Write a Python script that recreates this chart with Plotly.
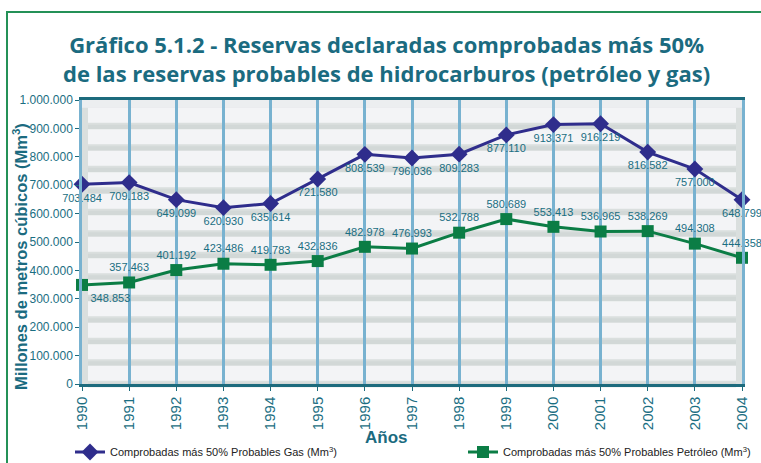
import plotly.graph_objects as go

years = list(range(1990, 2005))
gas = [703484, 709183, 649099, 620930, 635614, 721580, 808539, 796036,
       809283, 877110, 913371, 916219, 816582, 757000, 648799]
oil = [348853, 357463, 401192, 423486, 419783, 432836, 482978, 476993,
       532788, 580689, 553413, 536965, 538269, 494308, 444358]
gas_name = "Comprobadas más 50% Probables Gas (Mm<sup>3</sup>)"
oil_name = "Comprobadas más 50% Probables Petróleo (Mm<sup>3</sup>)"
title_text = ("Gráfico 5.1.2 - Reservas declaradas comprobadas más 50%<br>"
              "de las reservas probables de hidrocarburos (petróleo y gas)")
y_title = "Millones de metros cúbicos (Mm<sup>3</sup>)"
x_title = "Años"

W, H = 761, 463
L, R, T, B = 82, 19, 100, 79
PW, PH = W - L - R, H - T - B

def px_x(x):
    return (x - L) / PW

def px_y(y):
    return (H - B - y) / PH

TEAL = "#1b6b80"
LABEL = "#1a6e82"
GAS_C = "#2f2d8c"
OIL_C = "#0b7d45"
FONT = "Liberation Sans, Arial"

oil_pos = ["bottom right"] + ["top center"] * (len(oil) - 1)

fig = go.Figure()
fig.add_trace(go.Scatter(
    x=years, y=gas, name=gas_name, mode="lines+markers+text",
    line=dict(color=GAS_C, width=3),
    marker=dict(symbol="diamond", size=13, color=GAS_C),
    text=[f"{v:,}".replace(",", ".") for v in gas],
    textposition="bottom center",
    textfont=dict(family=FONT, size=11, color=LABEL),
    cliponaxis=False, legend="legend", showlegend=True))
fig.add_trace(go.Scatter(
    x=years, y=oil, name=oil_name, mode="lines+markers+text",
    line=dict(color=OIL_C, width=3),
    marker=dict(symbol="square", size=12, color=OIL_C),
    text=[f"{v:,}".replace(",", ".") for v in oil],
    textposition=oil_pos,
    textfont=dict(family=FONT, size=11, color=LABEL),
    cliponaxis=False, legend="legend2", showlegend=True))

shapes = []
shapes.append(dict(type="rect", xref="paper", yref="paper", layer="below",
                   x0=0, x1=1, y0=px_y(107.7), y1=1,
                   fillcolor="#eceef0", line=dict(width=0)))
for k in range(13):
    top = 107.7 + 21.5 * k
    shapes.append(dict(type="rect", xref="paper", yref="paper", layer="below",
                       x0=px_x(88), x1=px_x(736), y0=px_y(top + 15), y1=px_y(top),
                       fillcolor="#f3f4f6", line=dict(width=0)))
    shapes.append(dict(type="rect", xref="paper", yref="paper", layer="below",
                       x0=px_x(88), x1=px_x(736), y0=px_y(top + 21.5), y1=px_y(top + 17),
                       fillcolor="#d2d8d7", line=dict(width=0)))
shapes.append(dict(type="rect", xref="paper", yref="paper", layer="above",
                   x0=px_x(7), x1=px_x(790), y0=px_y(490), y1=px_y(12),
                   fillcolor="rgba(0,0,0,0)", line=dict(color="#249157", width=2)))

annotations = [
    dict(text=title_text, xref="paper", yref="paper",
         x=px_x(386), y=px_y(27), xanchor="center", yanchor="top",
         showarrow=False, align="center",
         font=dict(family="Open Sans", size=22, color=TEAL, weight="bold")),
    dict(text=y_title, xref="paper", yref="paper", textangle=-90,
         x=px_x(20), y=px_y(257), xanchor="center", yanchor="middle",
         showarrow=False,
         font=dict(family=FONT, size=16.5, color=TEAL, weight="bold")),
    dict(text=x_title, xref="paper", yref="paper",
         x=px_x(386), y=px_y(437), xanchor="center", yanchor="middle",
         showarrow=False,
         font=dict(family=FONT, size=17, color=TEAL, weight="bold")),
]

fig.update_layout(
    width=W, height=H,
    margin=dict(l=L, r=R, t=T, b=B, autoexpand=False),
    paper_bgcolor="white",
    plot_bgcolor="#dadfde",
    separators=",.",
    showlegend=True,
    shapes=shapes,
    annotations=annotations,
    xaxis=dict(range=[1990, 2004], dtick=1, tick0=1990, automargin=False,
               showgrid=True, gridcolor="#78b2d0", gridwidth=2.5,
               showline=True, linecolor="#1d6b7d", linewidth=2.5, mirror=True,
               ticks="outside", ticklen=4, tickcolor="#1d6b7d", tickangle=-90,
               tickfont=dict(family=FONT, size=15, color=LABEL),
               zeroline=False),
    yaxis=dict(range=[0, 1000000], dtick=100000, tickformat=",d", automargin=False,
               showgrid=False, zeroline=False,
               showline=True, linecolor="#78b2d0", linewidth=2.5, mirror=True,
               ticks="outside", ticklen=4, tickcolor="#1d6b7d",
               tickfont=dict(family=FONT, size=12, color=LABEL)),
    legend=dict(xref="container", yref="container",
                x=70 / W, y=1 - 452 / H, xanchor="left", yanchor="middle",
                orientation="h", bgcolor="rgba(0,0,0,0)",
                font=dict(family=FONT, size=11, color="#222")),
    legend2=dict(xref="container", yref="container",
                 x=463 / W, y=1 - 452 / H, xanchor="left", yanchor="middle",
                 orientation="h", bgcolor="rgba(0,0,0,0)",
                 font=dict(family=FONT, size=11, color="#222")),
)

fig.write_html("out.html", config={"displayModeBar": False},
               post_script="document.body.style.margin='0';document.body.style.overflow='hidden';")
